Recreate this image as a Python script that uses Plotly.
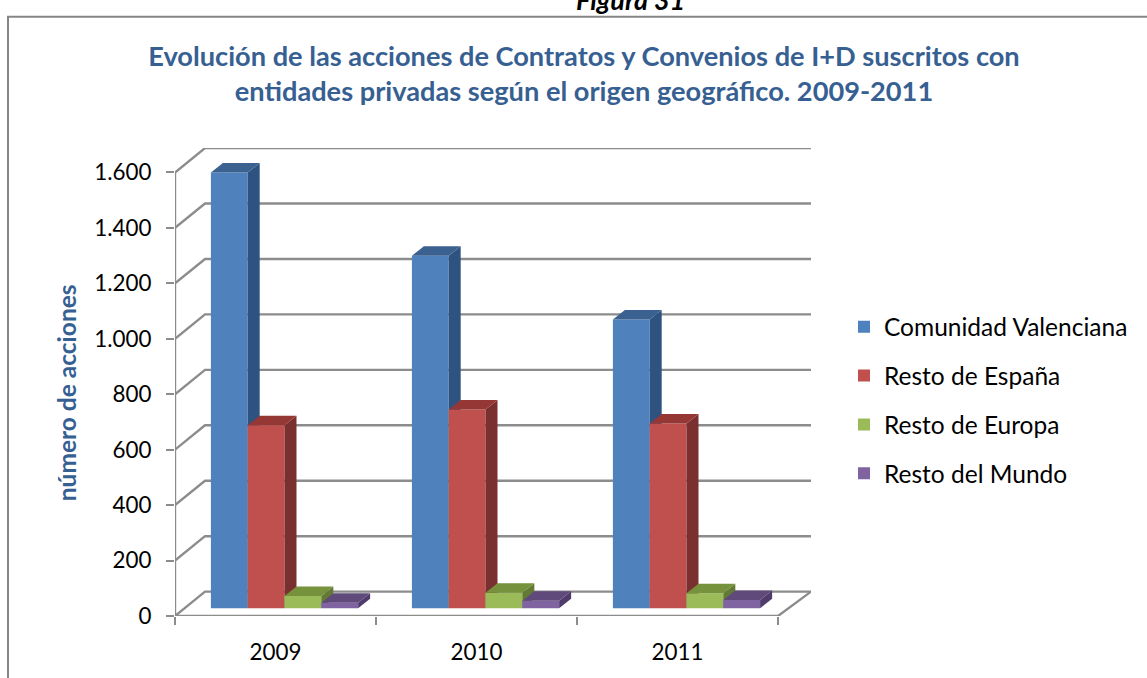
import plotly.graph_objects as go

categories = ["2009", "2010", "2011"]
series_names = ["Comunidad Valenciana", "Resto de España", "Resto de Europa", "Resto del Mundo"]
comunidad = [1572, 1272, 1042]
resto_espana = [660, 717, 667]
resto_europa = [44, 56, 54]
resto_mundo = [20, 27, 30]
y_ticks = [0, 200, 400, 600, 800, 1000, 1200, 1400, 1600]

series_values = [comunidad, resto_espana, resto_europa, resto_mundo]
front_colors = ['#4F81BD', '#C0504D', '#9BBB59', '#8064A2']
side_colors = ['#2F5380', '#7A302E', '#627A33', '#4F3C6A']
top_colors = ['#3A6190', '#953735', '#76923C', '#604A7B']

# plot area in pixels, everything else is placed relative to this
LEFT, RIGHT, TOP, BOTTOM = 175, 811, 147.5, 616
X_PER_PX = 1 / 201
Y_PER_PX = 200 / 55.5
x_range = [-0.5, -0.5 + (RIGHT - LEFT) * X_PER_PX]
y_range = [0, (BOTTOM - TOP) * Y_PER_PX]

# depth of the fake 3d box and of the bars
wall_dx_left = 30 * X_PER_PX
wall_dy = 24.4 * Y_PER_PX
bar_dx = 12 * X_PER_PX
bar_dy = 9.5 * Y_PER_PX
bar_base = 7.7 * Y_PER_PX
bar_width = 36.8 * X_PER_PX
group_shift = 9 * X_PER_PX


def px_x(px):
    return (px - LEFT) / (RIGHT - LEFT)


def px_y(py):
    return (BOTTOM - py) / (BOTTOM - TOP)


fig = go.Figure()

wall_color = '#8C8C8C'
back_left = x_range[0] + wall_dx_left
back_right = x_range[1]

# walls and floor go on the base axes so that all the bars sit on top of them
for v in y_ticks:
    fig.add_trace(go.Scatter(
        x=[x_range[0], back_left, back_right], y=[v, v + wall_dy, v + wall_dy],
        mode='lines', line=dict(color=wall_color, width=2.4),
        showlegend=False, hoverinfo='skip', cliponaxis=False))
fig.add_trace(go.Scatter(
    x=[x_range[0], x_range[0]], y=[0, y_ticks[-1]],
    mode='lines', line=dict(color=wall_color, width=2.4),
    showlegend=False, hoverinfo='skip', cliponaxis=False))
fig.add_trace(go.Scatter(
    x=[x_range[0], 2.5, back_right], y=[0, 0, wall_dy],
    mode='lines', line=dict(color=wall_color, width=2.4),
    showlegend=False, hoverinfo='skip', cliponaxis=False))

# each series gets its own overlaying axes, that keeps the paint order right:
# the next series has to cover the side face of the previous one
for i, values in enumerate(series_values):
    n = i + 2
    xa, ya = f'x{n}', f'y{n}'
    for c, v in enumerate(values):
        left = c + group_shift + (i - 2) * bar_width
        right = left + bar_width
        top = bar_base + v
        fig.add_trace(go.Scatter(
            x=[right, right + bar_dx, right + bar_dx, right, right],
            y=[bar_base, bar_base + bar_dy, top + bar_dy, top, bar_base],
            mode='lines', fill='toself', fillcolor=side_colors[i], line=dict(width=0),
            showlegend=False, hoverinfo='skip', xaxis=xa, yaxis=ya))
        fig.add_trace(go.Scatter(
            x=[left, left + bar_dx, right + bar_dx, right, left],
            y=[top, top + bar_dy, top + bar_dy, top, top],
            mode='lines', fill='toself', fillcolor=top_colors[i], line=dict(width=0),
            showlegend=False, hoverinfo='skip', xaxis=xa, yaxis=ya))
    fig.add_trace(go.Bar(
        x=[c + group_shift + (i - 1.5) * bar_width for c in range(len(categories))],
        y=values, base=bar_base, width=bar_width,
        marker=dict(color=front_colors[i], line=dict(width=0)),
        name=series_names[i], legendgroup=series_names[i],
        xaxis=xa, yaxis=ya))

overlay_axes = {}
for n in range(2, 6):
    overlay_axes[f'xaxis{n}'] = dict(range=x_range, overlaying='x', visible=False, fixedrange=True)
    overlay_axes[f'yaxis{n}'] = dict(range=y_range, overlaying='y', visible=False, fixedrange=True)

fig.update_layout(
    width=1147, height=678,
    margin=dict(l=LEFT, r=1147 - RIGHT, t=TOP, b=678 - BOTTOM),
    paper_bgcolor='white', plot_bgcolor='rgba(0,0,0,0)',
    font=dict(family='Lato', size=20, color='#000000'),
    separators=',.',
    title=dict(
        text='Evolución de las acciones de Contratos y Convenios de I+D suscritos con<br>'
             'entidades privadas según el origen geográfico. 2009-2011',
        font=dict(family='Lato', size=27.2, color='#376092', weight='bold'),
        x=584 / 1147, xanchor='center', y=1 - 66 / 678, yanchor='middle'),
    xaxis=dict(
        range=x_range, showgrid=False, zeroline=False, showline=False,
        tickmode='array', tickvals=list(range(len(categories))), ticktext=categories,
        ticks='', ticklabelstandoff=21, tickfont=dict(size=22.4),
        minor=dict(tickmode='array', tickvals=[-0.5, 0.5, 1.5, 2.5], ticks='outside',
                   ticklen=8, tickwidth=2, tickcolor=wall_color)),
    yaxis=dict(
        range=y_range,
        showgrid=False, zeroline=False, showline=False,
        tickmode='array', tickvals=y_ticks, tickformat=',d', ticklabelstandoff=10,
        ticks='outside', ticklen=8, tickwidth=2, tickcolor=wall_color, tickfont=dict(size=22.4)),
    legend=dict(
        x=px_x(844), y=px_y(304), xanchor='left', yanchor='top',
        tracegroupgap=14, font=dict(size=24.5), traceorder='grouped'),
    shapes=[dict(type='rect', xref='paper', yref='paper',
                 x0=px_x(8), x1=px_x(1170), y0=px_y(700), y1=px_y(16),
                 line=dict(color='#868686', width=2), fillcolor='rgba(0,0,0,0)', layer='below')],
    annotations=[
        dict(text='<b><i>Figura 31</i></b>', xref='paper', yref='paper',
             x=px_x(630), y=px_y(-1), showarrow=False, xanchor='center', yanchor='middle',
             font=dict(size=27, color='#000000')),
        # plotly centres an axis title on the domain, the reference has it lower
        dict(text='<b>número de acciones</b>', xref='paper', yref='paper',
             x=px_x(66), y=px_y(393), showarrow=False, textangle=-90,
             xanchor='center', yanchor='middle',
             font=dict(size=24.5, color='#376092')),
    ],
    **overlay_axes
)

# the page default of 8px body margin would push the whole chart off its place
fig.write_html("out.html", config=dict(displayModeBar=False),
               post_script="document.body.style.margin='0';")
